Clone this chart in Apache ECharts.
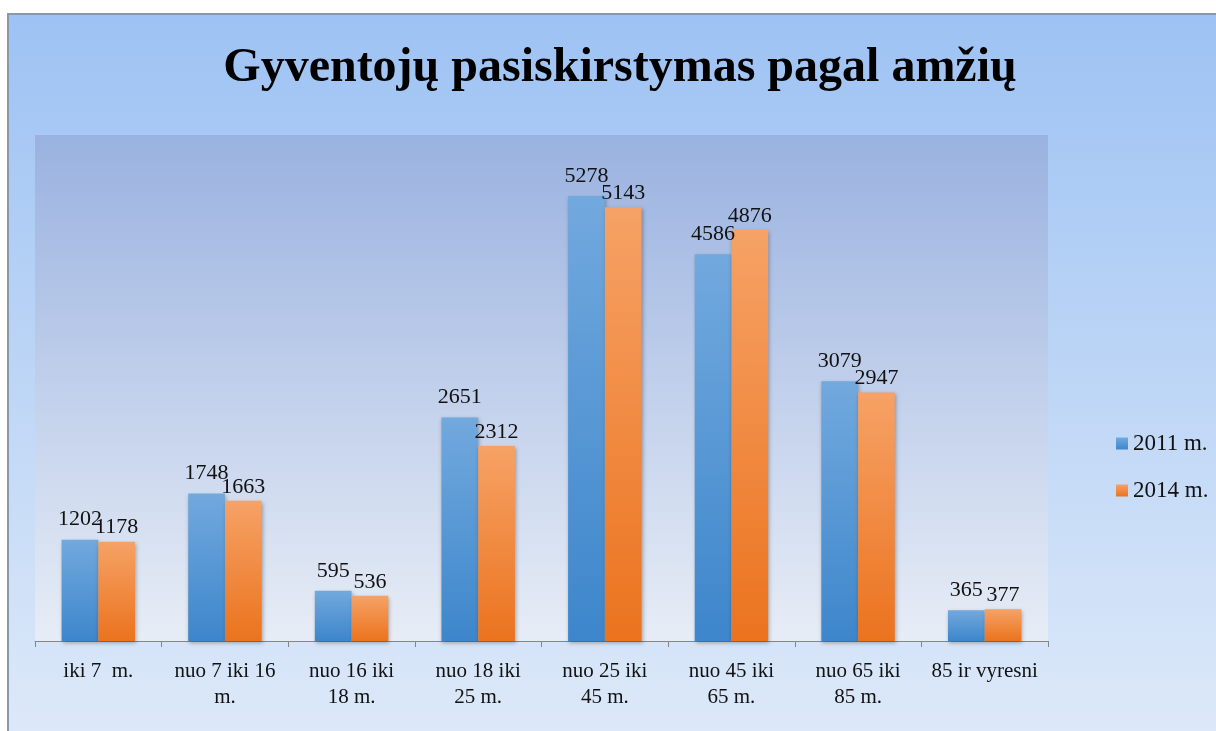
<!DOCTYPE html>
<html>
<head>
<meta charset="utf-8">
<script src="https://cdn.jsdelivr.net/npm/echarts@6/dist/echarts.min.js"></script>
<style>
  html, body { margin: 0; padding: 0; background: #fff; }
  #chart { width: 1216px; height: 731px; }
</style>
</head>
<body>
<div id="chart"></div>
<script>
// age groups
const categories = [
  'iki 7  m.',
  'nuo 7 iki 16\nm.',
  'nuo 16 iki\n18 m.',
  'nuo 18 iki\n25 m.',
  'nuo 25 iki\n45 m.',
  'nuo 45 iki\n65 m.',
  'nuo 65 iki\n85 m.',
  '85 ir vyresni'
];
const values2011 = [1202, 1748, 595, 2651, 5278, 4586, 3079, 365];
const values2014 = [1178, 1663, 536, 2312, 5143, 4876, 2947, 377];
const seriesNames = ['2011 m.', '2014 m.'];

const serif = '"Liberation Serif", "DejaVu Serif", serif';

const vGrad = (top, bottom) => new echarts.graphic.LinearGradient(0, 0, 0, 1, [
  { offset: 0, color: top },
  { offset: 1, color: bottom }
]);

const chart = echarts.init(document.getElementById('chart'));

const barLabel = (dist) => ({
  show: true,
  position: 'top',
  distance: dist,
  color: '#111',
  fontFamily: serif,
  fontSize: 22
});

const option = {
  backgroundColor: '#ffffff',
  animation: false,
  graphic: [{
    type: 'rect',
    left: 7,
    top: 13,
    z: -10,
    silent: true,
    shape: { width: 1215, height: 722 },
    style: {
      fill: vGrad('#9dc2f3', '#dde9f9'),
      stroke: '#8b98a6',
      lineWidth: 2
    }
  }],
  title: {
    text: 'Gyventojų pasiskirstymas pagal amžių',
    left: 615,
    textAlign: 'center',
    top: 40,
    textStyle: {
      fontFamily: serif,
      fontWeight: 'bold',
      fontSize: 48,
      color: '#000'
    }
  },
  legend: {
    orient: 'vertical',
    left: 1111,
    top: 427,
    itemWidth: 12,
    itemHeight: 12,
    itemGap: 24,
    icon: 'rect',
    data: seriesNames,
    textStyle: {
      fontFamily: serif,
      fontSize: 23,
      color: '#111',
      lineHeight: 23
    }
  },
  grid: {
    left: 35,
    right: 168,
    top: 135,
    bottom: 90,
    show: true,
    borderWidth: 0,
    backgroundColor: vGrad('#9ab2e0', '#e7edf6'),
    containLabel: false
  },
  xAxis: {
    type: 'category',
    data: categories,
    axisLine: { lineStyle: { color: '#868686', width: 1 } },
    axisTick: { show: true, length: 6, lineStyle: { color: '#868686' } },
    axisLabel: {
      color: '#111',
      fontFamily: serif,
      fontSize: 21,
      lineHeight: 26,
      margin: 17,
      interval: 0
    }
  },
  yAxis: {
    type: 'value',
    min: 0,
    max: 6000,
    show: false,
    splitLine: { show: false }
  },
  series: [
    {
      name: seriesNames[0],
      type: 'bar',
      data: values2011,
      barGap: '0%',
      barCategoryGap: '42%',
      itemStyle: {
        color: vGrad('#72a9de', '#3d86cb'),
        shadowColor: 'rgba(0,0,0,0.3)',
        shadowBlur: 4,
        shadowOffsetX: 1,
        shadowOffsetY: 2
      },
      label: barLabel(9)
    },
    {
      name: seriesNames[1],
      type: 'bar',
      data: values2014,
      itemStyle: {
        color: vGrad('#f6a266', '#eb731e'),
        shadowColor: 'rgba(0,0,0,0.3)',
        shadowBlur: 4,
        shadowOffsetX: 1,
        shadowOffsetY: 2
      },
      label: barLabel(3)
    }
  ]
};

chart.setOption(option);
</script>
</body>
</html>
